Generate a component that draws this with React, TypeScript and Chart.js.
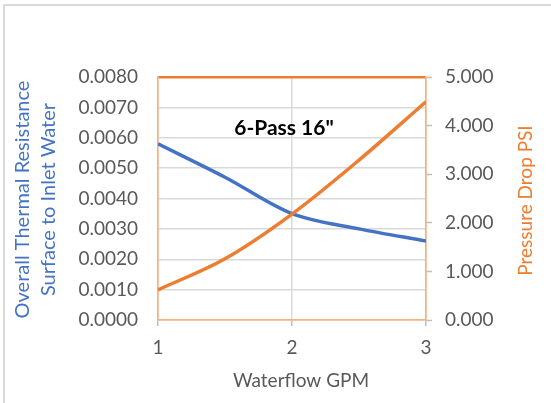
import React, { useEffect, useRef } from 'react';
import { Chart, registerables } from 'chart.js';

Chart.register(...registerables);

// ---- data ----
const gpm = [1, 1.5, 2, 2.5, 3];
const thermalResistance = [0.0058, 0.0047, 0.0035, 0.003, 0.0026];
const pressureDrop = [0.62, 1.26, 2.18, 3.29, 4.49];

const chartTitle = '6-Pass 16"';
const xTitle = 'Waterflow GPM';
const leftTitle = ['Overall Thermal Resistance', 'Surface to Inlet Water'];
const rightTitle = 'Pressure Drop PSI';

const leftAxis = { min: 0, max: 0.008, step: 0.001, decimals: 4 };
const rightAxis = { min: 0, max: 5, step: 1, decimals: 3 };
const xAxis = { min: 1, max: 3, step: 1 };

const BLUE = '#4472C4';
const ORANGE = '#ED7D31';
const FRAME = '#F4B183';
const GRID = '#D9D9D9';
const TEXT = '#595959';
const FONT = 'Lato';

const W = 551;
const H = 403;

const decor = {
  id: 'decor',
  beforeDraw(chart: any) {
    const { ctx, width, height } = chart;
    ctx.save();
    ctx.fillStyle = '#FFFFFF';
    ctx.fillRect(0, 0, width, height);
    ctx.fillStyle = GRID;
    ctx.fillRect(3, 4, 2, height);
    ctx.fillRect(3, 4, width, 2);
    ctx.restore();
  },
  afterDraw(chart: any) {
    const { ctx, chartArea } = chart;
    const { left, right, top, bottom } = chartArea;
    const cy = (top + bottom) / 2;
    ctx.save();
    ctx.textAlign = 'center';
    ctx.textBaseline = 'middle';

    // chart title inside plot
    ctx.font = `bold 21px ${FONT}`;
    ctx.fillStyle = '#000000';
    ctx.fillText(chartTitle, left + 126, top + 51);

    // left axis title (two lines)
    ctx.font = `20px ${FONT}`;
    ctx.fillStyle = BLUE;
    leftTitle.forEach((line, i) => {
      ctx.save();
      ctx.translate(left - 135 + i * 26, cy + 1);
      ctx.rotate(-Math.PI / 2);
      ctx.fillText(line, 0, 0);
      ctx.restore();
    });

    // right axis title
    ctx.font = `19px ${FONT}`;
    ctx.fillStyle = ORANGE;
    ctx.save();
    ctx.translate(right + 100, cy + 2);
    ctx.rotate(-Math.PI / 2);
    ctx.fillText(rightTitle, 0, 0);
    ctx.restore();

    // x axis title
    ctx.fillStyle = TEXT;
    ctx.fillText(xTitle, (left + right) / 2 + 9, bottom + 61);
    ctx.restore();
  },
};

export default function App() {
  const ref = useRef<HTMLCanvasElement | null>(null);

  useEffect(() => {
    if (!ref.current) return;
    const chart = new Chart(ref.current, {
      type: 'line',
      data: {
        datasets: [
          {
            label: 'Pressure Drop PSI',
            data: gpm.map((x, i) => ({ x, y: pressureDrop[i] })),
            borderColor: ORANGE,
            backgroundColor: ORANGE,
            borderWidth: 3.5,
            pointRadius: 0,
            cubicInterpolationMode: 'monotone',
            yAxisID: 'y2',
            order: 0,
          },
          {
            label: 'Thermal Resistance',
            data: gpm.map((x, i) => ({ x, y: thermalResistance[i] })),
            borderColor: BLUE,
            backgroundColor: BLUE,
            borderWidth: 3.5,
            pointRadius: 0,
            cubicInterpolationMode: 'monotone',
            yAxisID: 'y',
            order: 1,
          },
        ],
      },
      options: {
        responsive: false,
        animation: false,
        devicePixelRatio: 1,
        layout: { padding: { top: 77, left: 0, right: 0, bottom: 0 } },
        plugins: {
          legend: { display: false },
          tooltip: { enabled: false },
          title: { display: false },
        },
        scales: {
          x: {
            type: 'linear',
            min: xAxis.min,
            max: xAxis.max,
            afterFit: (s: any) => {
              s.height = 83;
            },
            ticks: {
              stepSize: xAxis.step,
              color: TEXT,
              font: { family: FONT, size: 19 },
              padding: 10,
              callback: (v: any) => String(v),
            },
            grid: {
              color: (c: any) =>
                c.tick && (c.tick.value === xAxis.min || c.tick.value === xAxis.max) ? FRAME : GRID,
              lineWidth: 1.5,
              drawTicks: true,
              tickLength: 6,
              tickColor: '#BFBFBF',
              tickWidth: 1.5,
            },
            border: { display: true, color: FRAME, width: 1.5 },
          },
          y: {
            type: 'linear',
            position: 'left',
            min: leftAxis.min,
            max: leftAxis.max,
            afterFit: (s: any) => {
              s.width = 158;
            },
            ticks: {
              stepSize: leftAxis.step,
              color: TEXT,
              font: { family: FONT, size: 19 },
              padding: 20,
              callback: (v: any) => Number(v).toFixed(leftAxis.decimals),
            },
            grid: {
              color: (c: any) => {
                if (!c.tick) return GRID;
                if (Math.abs(c.tick.value - leftAxis.max) < 1e-9) return ORANGE;
                if (Math.abs(c.tick.value - leftAxis.min) < 1e-9) return FRAME;
                return GRID;
              },
              lineWidth: (c: any) =>
                c.tick && Math.abs(c.tick.value - leftAxis.max) < 1e-9 ? 2.5 : 1.5,
              drawTicks: false,
            },
            border: { display: true, color: FRAME, width: 1.5 },
          },
          y2: {
            type: 'linear',
            position: 'right',
            min: rightAxis.min,
            max: rightAxis.max,
            afterFit: (s: any) => {
              s.width = 125;
            },
            ticks: {
              stepSize: rightAxis.step,
              color: TEXT,
              font: { family: FONT, size: 19 },
              padding: 13,
              callback: (v: any) => Number(v).toFixed(rightAxis.decimals),
            },
            grid: {
              drawOnChartArea: false,
              drawTicks: true,
              tickLength: 6,
              tickColor: '#BFBFBF',
              tickWidth: 1.5,
            },
            border: { display: true, color: FRAME, width: 1.5 },
          },
        },
      },
      plugins: [decor],
    });
    return () => chart.destroy();
  }, []);

  return (
    <div style={{ position: 'absolute', left: 0, top: 0, width: W, height: H }}>
      <canvas ref={ref} width={W} height={H} style={{ display: 'block' }} />
    </div>
  );
}
